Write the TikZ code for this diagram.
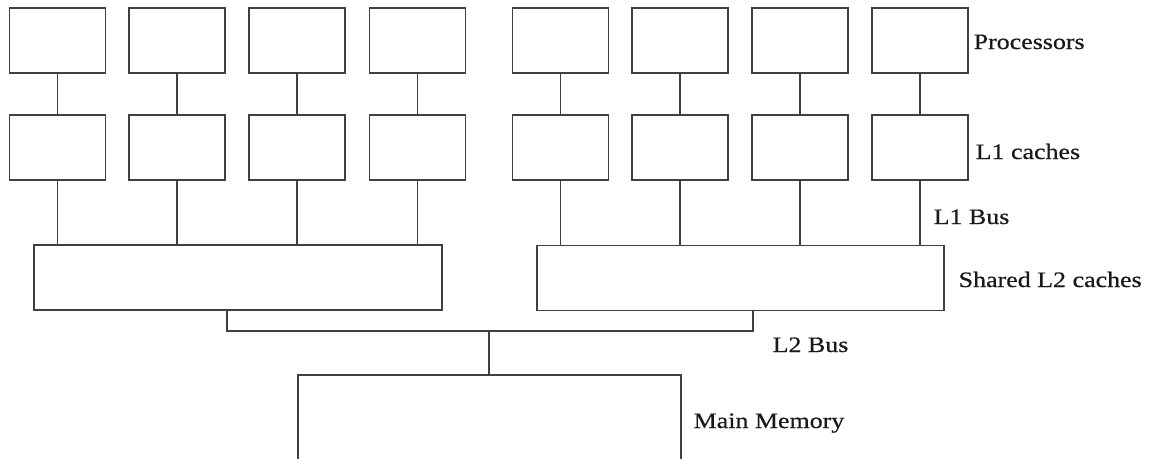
\documentclass[tikz,border=0pt]{standalone}
\usepackage{fontspec}
\setmainfont[FakeStretch=1.18,FakeBold=0.6]{Liberation Serif}
\begin{document}
\begin{tikzpicture}[x=1pt,y=-1pt,
  line width=1.3pt, draw=black!75,
  unit/.style={draw=black!75, line width=1.3pt, minimum width=96pt, minimum height=65pt, inner sep=0pt},
  l2box/.style={draw=black!75, line width=1.3pt, minimum height=65pt, inner sep=0pt},
  lbl/.style={anchor=base west, inner sep=0pt, text=black!90, font=\fontsize{22}{26}\selectfont},
  wire/.style={draw=black!75, line width=1.3pt}]
\useasboundingbox (0,0) rectangle (1153,458);
% processors and L1 caches
\foreach \i/\x in {1/57.5,2/177,3/297,4/417.5,5/560.5,6/680,7/800,8/920}{
  \node[unit] (p\i) at (\x,40.5) {};
  \node[unit] (c\i) at (\x,147.5) {};
  \draw[wire] (p\i) -- (c\i);
}
% shared L2 caches
\node[l2box, minimum width=408pt] (l2a) at (238,277.5) {};
\node[l2box, minimum width=407pt] (l2b) at (740.5,278) {};
\foreach \i in {1,2,3,4}{ \draw[wire] (c\i.south) -- (c\i.south |- l2a.north); }
\foreach \i in {5,6,7,8}{ \draw[wire] (c\i.south) -- (c\i.south |- l2b.north); }
% L2 bus
\coordinate (busL) at (227,331);
\coordinate (busR) at (753,331);
\coordinate (busM) at (489,331);
\draw[wire] (busL |- l2a.south) -- (busL) -- (busR) -- (busR |- l2b.south);
% main memory
\coordinate (memTL) at (298,375);
\coordinate (memTR) at (681,375);
\coordinate (memBL) at (298,460);
\coordinate (memBR) at (681,460);
\draw[wire] (busM) -- (busM |- memTL);
\draw[wire] (memBL) -- (memTL) -- (memTR) -- (memBR);
% labels
\node[lbl] (tp) at (973,49) {Processors};
\node[lbl] (tc) at (975,159) {L1 caches};
\node[lbl] (tb1) at (933,224) {L1 Bus};
\node[lbl] (ts) at (958,287) {Shared L2 caches};
\node[lbl] (tb2) at (772,352) {L2 Bus};
\node[lbl] (tm) at (693,428) {Main Memory};
\end{tikzpicture}
\end{document}
